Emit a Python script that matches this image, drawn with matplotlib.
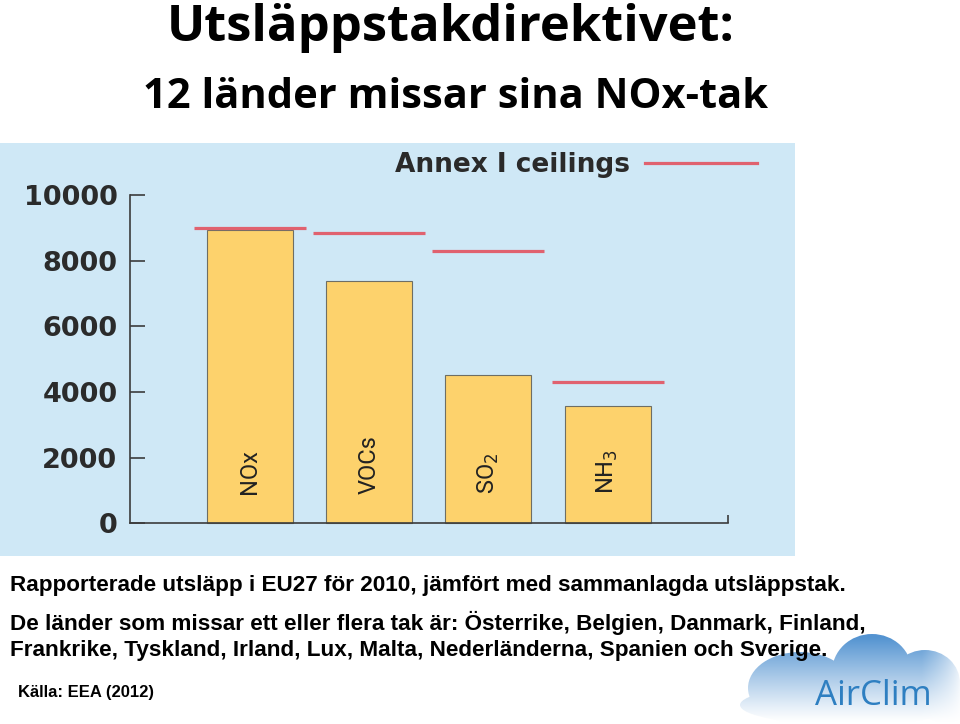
import numpy as np
import matplotlib
matplotlib.use("Agg")
import matplotlib.pyplot as plt
from matplotlib.patches import Ellipse

# data (kton, EU27 2010)
amnen = ["NOx", "VOCs", "SO$_2$", "NH$_3$"]
utslapp = [8930, 7370, 4520, 3580]
tak = [8980, 8850, 8290, 4300]
yticks = [0, 2000, 4000, 6000, 8000, 10000]

titel = "Utsläppstakdirektivet:"
undertitel = "12 länder missar sina NOx-tak"
rad1 = "Rapporterade utsläpp i EU27 för 2010, jämfört med sammanlagda utsläppstak."
rad2 = "De länder som missar ett eller flera tak är: Österrike, Belgien, Danmark, Finland,"
rad3 = "Frankrike, Tyskland, Irland, Lux, Malta, Nederländerna, Spanien och Sverige."
kalla = "Källa: EEA (2012)"

W, H = 960, 724
fig = plt.figure(figsize=(W / 100, H / 100), dpi=100)
fig.patch.set_facecolor("white")

# bakgrund / moln-logga i pixelkoordinater
deco = fig.add_axes([0, 0, 1, 1], zorder=-1)
deco.set_xlim(0, W)
deco.set_ylim(H, 0)
deco.axis("off")

yy = np.linspace(630, 724, 120)[:, None]
xx = np.linspace(740, 960, 240)[None, :]
t = np.clip((722 - yy) / 85, 0, 1) ** 1.1 * np.clip((962 - xx) / 40, 0, 1) ** 0.6
blue = np.array([0.33, 0.58, 0.82])
img = 1 - (1 - blue)[None, None, :] * t[:, :, None]
moln = [((850, 705), 220, 40), ((800, 688), 104, 72), ((872, 672), 80, 76),
        ((925, 683), 70, 66), ((945, 702), 60, 40)]
for c, w, h in moln:
    e = Ellipse(c, w, h, facecolor="none", edgecolor="none")
    deco.add_patch(e)
    im = deco.imshow(img, extent=(740, 960, 724, 630), aspect="auto", interpolation="bilinear")
    im.set_clip_path(e)
deco.set_xlim(0, W)
deco.set_ylim(H, 0)

# diagrammet
ax = fig.add_axes([0, 1 - 556 / H, 795 / W, 413 / H])
ax.set_facecolor("#cfe8f6")
x = np.arange(len(amnen))
ax.bar(x, utslapp, width=0.72, color="#fdd26c", edgecolor="#6e6e64", linewidth=0.8, zorder=2)
ax.hlines(tak, x - 0.47, x + 0.47, color="#e0626f", linewidth=2.3, zorder=3)

for xi, namn in zip(x, amnen):
    ax.text(xi, 880, namn, rotation=90, ha="center", va="bottom", fontsize=17,
            family="Roboto", color="#222222", zorder=4)

for s in ["top", "right"]:
    ax.spines[s].set_visible(False)
for s in ["left", "bottom"]:
    ax.spines[s].set_color("#3c3c3c")
    ax.spines[s].set_linewidth(1.2)
ax.spines["left"].set_position(("data", -1.007))
ax.spines["left"].set_bounds(0, 10000)
ax.spines["bottom"].set_position(("data", 0))
ax.spines["bottom"].set_bounds(-1.007, 4.01)

ax.set_xlim(-2.097, 4.572)
ax.set_ylim(-996, 11584)
ax.set_yticks(yticks)
ax.set_yticklabels([str(v) for v in yticks])
ax.tick_params(axis="y", direction="in", length=11, width=1.2, pad=9,
               labelsize=19.5, colors="#3c3c3c", labelcolor="#2b2b2b")
plt.setp(ax.get_yticklabels(), fontweight="bold", family="DejaVu Sans")
ax.set_xticks([4.01])
ax.tick_params(axis="x", direction="in", length=6, width=1.2, colors="#3c3c3c",
               labelbottom=False)

ax.text(0.792, 0.930, "Annex I ceilings", transform=ax.transAxes, ha="right",
        va="baseline", fontsize=19, fontweight="bold", family="DejaVu Sans", color="#2a2a2a")
ax.plot([0.811, 0.952], [0.952, 0.952], transform=ax.transAxes, color="#e0626f",
        linewidth=2.3, clip_on=False)

# rubriker och text
fig.text(450.5 / W, 1 - 41 / H, titel, ha="center", va="baseline", fontsize=36.5,
         fontweight="bold", family="Open Sans", color="black")
fig.text(455.5 / W, 1 - 108 / H, undertitel, ha="center", va="baseline", fontsize=30,
         fontweight="bold", family="Open Sans", color="black")

fig.text(10 / W, 1 - 591 / H, rad1, ha="left", va="baseline", fontsize=16.2,
         fontweight="bold", family="Liberation Sans", color="black")
fig.text(10 / W, 1 - 630 / H, rad2, ha="left", va="baseline", fontsize=16.2,
         fontweight="bold", family="Liberation Sans", color="black")
fig.text(10 / W, 1 - 656 / H, rad3, ha="left", va="baseline", fontsize=16.2,
         fontweight="bold", family="Liberation Sans", color="black")
fig.text(18 / W, 1 - 697 / H, kalla, ha="left", va="baseline", fontsize=12,
         fontweight="bold", family="Liberation Sans", color="black")

fig.text(815 / W, 1 - 705 / H, "AirClim", ha="left", va="baseline", fontsize=25,
         family="Open Sans", color="#2e7fc1")

fig.savefig("out.png", dpi=100)
